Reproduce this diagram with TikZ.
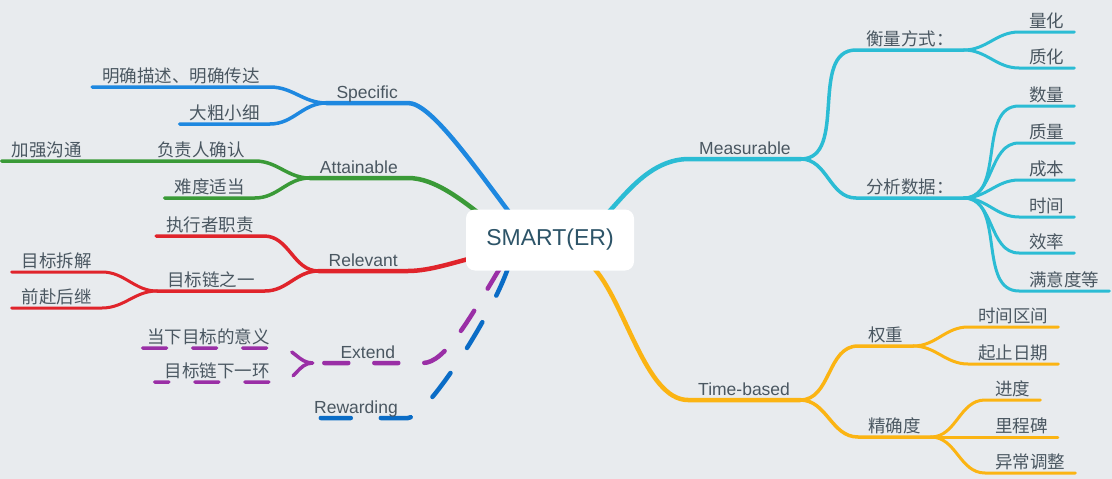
\documentclass[tikz,border=0pt]{standalone}
\usepackage{fontspec}
\setmainfont{Liberation Sans}
\newfontfamily\cjk{Noto Sans CJK SC}
\usetikzlibrary{backgrounds}

\definecolor{bgcol}{HTML}{E8EBEE}
\definecolor{txtcol}{HTML}{4A5761}
\definecolor{smartcol}{HTML}{2D5468}
\definecolor{speccol}{HTML}{1E88E0}
\definecolor{attcol}{HTML}{3A9A37}
\definecolor{relcol}{HTML}{E0242B}
\definecolor{extcol}{HTML}{9A2FA6}
\definecolor{rewcol}{HTML}{0A6CC6}
\definecolor{meascol}{HTML}{2BBCD4}
\definecolor{timecol}{HTML}{FBB413}

\begin{document}
\begin{tikzpicture}[x=1pt,y=-1pt,
    topic/.style={font=\fontsize{17.5}{21}\selectfont,text=txtcol,inner xsep=10pt,inner ysep=1.5pt,text height=13pt,text depth=3pt},
    cn/.style={topic,font=\cjk\fontsize{17.5}{21}\selectfont},
    lt/.style={anchor=south east},
    rt/.style={anchor=south west},
    main/.style={line width=4.5pt,line cap=round},
    sub/.style={line width=3.5pt,line cap=round},
    leaf/.style={line width=3pt,line cap=round},
    extdash/.style={dash pattern=on 24pt off 26pt},
    rewdash/.style={dash pattern=on 30pt off 30pt}]

    \useasboundingbox (0,0) rectangle (1112,479);
    \begin{scope}[on background layer]
        \fill[bgcol] (0,0) rectangle (1112,479);
    \end{scope}

    \node (smart) [fill=white,rounded corners=9pt,minimum width=168pt,minimum height=61pt,text=smartcol,font=\fontsize{23}{26}\selectfont] at (550,240) {SMART(ER)};

    % left side
    \node (spec) [topic,lt] at (408,103) {Specific};
    \node (s1) [cn,lt] at (270,87) {明确描述、明确传达};
    \node (s2) [cn,lt] at (270,124) {大粗小细};

    \node (att) [topic,lt] at (408,178) {Attainable};
    \node (a1) [cn,lt] at (255,161) {负责人确认};
    \node (a11) [cn,lt] at (92,161) {加强沟通};
    \node (a2) [cn,lt] at (255,198) {难度适当};

    \node (rel) [topic,lt] at (408,271) {Relevant};
    \node (r1) [cn,lt] at (264,236) {执行者职责};
    \node (r2) [cn,lt] at (265,291) {目标链之一};
    \node (r21) [cn,lt] at (102,272) {目标拆解};
    \node (r22) [cn,lt] at (102,308) {前赴后继};

    \node (ext) [topic,lt,minimum width=110pt] at (423,363) {Extend};
    \node (e1) [cn,lt] at (280,348) {当下目标的意义};
    \node (e2) [cn,lt] at (280,382) {目标链下一环};

    \node (rew) [topic,lt] at (408,418) {Rewarding};

    % right side
    \node (meas) [topic,rt] at (689,159) {Measurable};
    \node (m1) [cn,rt] at (856,50) {衡量方式：};
    \node (m11) [cn,rt] at (1019,32) {量化};
    \node (m12) [cn,rt] at (1019,68) {质化};
    \node (m2) [cn,rt] at (856,198) {分析数据：};
    \node (m21) [cn,rt] at (1019,106) {数量};
    \node (m22) [cn,rt] at (1019,143) {质量};
    \node (m23) [cn,rt] at (1019,180) {成本};
    \node (m24) [cn,rt] at (1019,217) {时间};
    \node (m25) [cn,rt] at (1019,253) {效率};
    \node (m26) [cn,rt] at (1019,291) {满意度等};

    \node (time) [topic,rt] at (688,400) {Time-based};
    \node (t1) [cn,rt] at (858,346) {权重};
    \node (t11) [cn,rt] at (968,327) {时间区间};
    \node (t12) [cn,rt] at (968,364) {起止日期};
    \node (t2) [cn,rt] at (858,437) {精确度};
    \node (t21) [cn,rt] at (985,400) {进度};
    \node (t22) [cn,rt] at (985,437) {里程碑};
    \node (t23) [cn,rt] at (985,473) {异常调整};

    \begin{scope}[on background layer]
        % Specific
        \draw[main,speccol] ([xshift=-35pt,yshift=20pt]smart.center) .. controls (470,160) and (430,103) .. (spec.south east) -- (spec.south west);
        \draw[sub,speccol] (spec.south west) to[out=180,in=0] (s1.south east) -- (s1.south west);
        \draw[sub,speccol] (spec.south west) to[out=180,in=0] (s2.south east) -- (s2.south west);
        % Attainable
        \draw[main,attcol] ([xshift=-60pt,yshift=18pt]smart.center) .. controls (462,200) and (435,178) .. (att.south east) -- (att.south west);
        \draw[sub,attcol] (att.south west) to[out=180,in=0] (a1.south east) -- (a1.south west) -- (a11.south east) -- (a11.south west);
        \draw[sub,attcol] (att.south west) to[out=180,in=0] (a2.south east) -- (a2.south west);
        % Relevant
        \draw[main,relcol] ([xshift=-70pt,yshift=-16pt]smart.center) .. controls (455,262) and (430,271) .. (rel.south east) -- (rel.south west);
        \draw[sub,relcol] (rel.south west) to[out=180,in=0] (r1.south east) -- (r1.south west);
        \draw[sub,relcol] (rel.south west) to[out=180,in=0] (r2.south east) -- (r2.south west);
        \draw[leaf,relcol] (r2.south west) to[out=180,in=0] (r21.south east) -- (r21.south west);
        \draw[leaf,relcol] (r2.south west) to[out=180,in=0] (r22.south east) -- (r22.south west);
        % Extend
        \draw[main,extcol,extdash] ([xshift=-50pt,yshift=-28pt]smart.center) .. controls (470,318) and (445,363) .. (ext.south east) -- (ext.south west);
        \draw[sub,extcol,extdash] (ext.south west) to[out=180,in=0] (e1.south east) -- (e1.south west);
        \draw[sub,extcol,extdash] (ext.south west) to[out=180,in=0] (e2.south east) -- (e2.south west);
        % Rewarding
        \draw[main,rewcol,rewdash] ([xshift=-42pt,yshift=-28pt]smart.center) .. controls (490,320) and (425,418) .. (rew.south east) -- (rew.south west);
        % Measurable
        \draw[main,meascol] ([xshift=55pt,yshift=24pt]smart.center) .. controls (625,195) and (650,159) .. (meas.south west) -- (meas.south east);
        \draw[sub,meascol] (meas.south east) to[out=0,in=180] (m1.south west) -- (m1.south east);
        \draw[sub,meascol] (meas.south east) to[out=0,in=180] (m2.south west) -- (m2.south east);
        \draw[leaf,meascol] (m1.south east) to[out=0,in=180] (m11.south west) -- (m11.south east);
        \draw[leaf,meascol] (m1.south east) to[out=0,in=180] (m12.south west) -- (m12.south east);
        \draw[leaf,meascol] (m2.south east) to[out=0,in=180] (m21.south west) -- (m21.south east);
        \draw[leaf,meascol] (m2.south east) to[out=0,in=180] (m22.south west) -- (m22.south east);
        \draw[leaf,meascol] (m2.south east) to[out=0,in=180] (m23.south west) -- (m23.south east);
        \draw[leaf,meascol] (m2.south east) to[out=0,in=180] (m24.south west) -- (m24.south east);
        \draw[leaf,meascol] (m2.south east) to[out=0,in=180] (m25.south west) -- (m25.south east);
        \draw[leaf,meascol] (m2.south east) to[out=0,in=180] (m26.south west) -- (m26.south east);
        % Time-based
        \draw[main,timecol] ([xshift=42pt,yshift=-26pt]smart.center) .. controls (625,300) and (645,400) .. (time.south west) -- (time.south east);
        \draw[sub,timecol] (time.south east) to[out=0,in=180] (t1.south west) -- (t1.south east);
        \draw[sub,timecol] (time.south east) to[out=0,in=180] (t2.south west) -- (t2.south east);
        \draw[leaf,timecol] (t1.south east) to[out=0,in=180] (t11.south west) -- (t11.south east);
        \draw[leaf,timecol] (t1.south east) to[out=0,in=180] (t12.south west) -- (t12.south east);
        \draw[leaf,timecol] (t2.south east) to[out=0,in=180] (t21.south west) -- (t21.south east);
        \draw[leaf,timecol] (t2.south east) to[out=0,in=180] (t22.south west) -- (t22.south east);
        \draw[leaf,timecol] (t2.south east) to[out=0,in=180] (t23.south west) -- (t23.south east);
    \end{scope}
\end{tikzpicture}
\end{document}
